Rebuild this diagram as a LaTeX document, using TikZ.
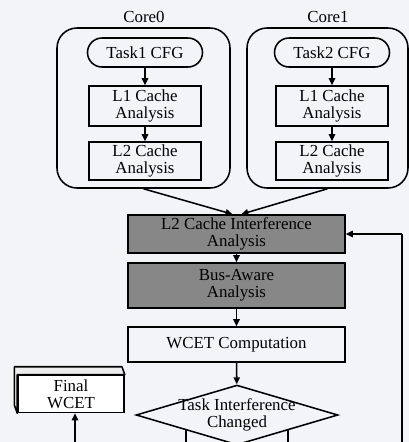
\documentclass[tikz,border=0pt]{standalone}
\usepackage{fontspec}
\setmainfont{Liberation Serif}
\usetikzlibrary{shapes.geometric, shapes.misc, arrows.meta, calc}

\definecolor{bggray}{RGB}{243,244,247}
\definecolor{stepgray}{RGB}{135,135,135}

\tikzset{
	base/.style={draw, line width=1.1pt, align=center, inner sep=0pt,
		font=\fontsize{12}{12}\selectfont},
	corebox/.style={base, rounded corners=0.5cm},
	cfgbox/.style={base, rounded rectangle},
	stepbox/.style={base, rectangle},
	graybox/.style={stepbox, fill=stepgray},
	decision/.style={base, diamond, aspect=3.37, inner sep=-2pt},
	arr/.style={line width=1.1pt, -{Triangle[length=5pt, width=4.5pt]}},
}

\begin{document}
\begin{tikzpicture}

\useasboundingbox[fill=bggray] (0,0) rectangle (10.225,-11.05);

%% Core 0
\node[font=\fontsize{12}{12}\selectfont] (c0lab) at (3.6,-0.425) {Core0};
\node[corebox, minimum width=4.325cm, minimum height=4cm] (core0) at (3.5875,-2.7) {};
\node[cfgbox, minimum width=2.875cm, minimum height=0.725cm] (task1) at (3.625,-1.3125) {Task1 CFG};
\node[stepbox, minimum width=2.8cm, minimum height=1cm] (l1a) at (3.625,-2.65) {L1 Cache\\Analysis};
\node[stepbox, minimum width=2.8cm, minimum height=0.95cm] (l2a) at (3.625,-4.025) {L2 Cache\\Analysis};
\draw[arr] (task1) -- (l1a);
\draw[arr] (l1a) -- (l2a);

%% Core 1
\node[font=\fontsize{12}{12}\selectfont] (c1lab) at (8.2,-0.425) {Core1};
\node[corebox, minimum width=4.025cm, minimum height=4cm] (core1) at (8.1875,-2.7) {};
\node[cfgbox, minimum width=2.875cm, minimum height=0.725cm] (task2) at (8.3,-1.3125) {Task2 CFG};
\node[stepbox, minimum width=2.8cm, minimum height=1cm] (l1b) at (8.3,-2.65) {L1 Cache\\Analysis};
\node[stepbox, minimum width=2.8cm, minimum height=0.95cm] (l2b) at (8.3,-4.025) {L2 Cache\\Analysis};
\draw[arr] (task2) -- (l1b);
\draw[arr] (l1b) -- (l2b);

%% shared analysis
\node[graybox, minimum width=5.425cm, minimum height=0.95cm] (l2int) at (5.9125,-5.85) {L2 Cache Interference\\Analysis};
\node[graybox, minimum width=5.425cm, minimum height=1.125cm] (bus) at (5.9125,-7.1375) {Bus-Aware\\Analysis};
\node[stepbox, minimum width=5.425cm, minimum height=0.875cm] (wcet) at (5.9125,-8.6125) {WCET Computation};
\node[decision] (chk) at (5.925,-10.375) {Task Interference\\Changed};

\draw[arr] (core0.south) -- ([xshift=-0.1cm]l2int.north);
\draw[arr] (core1.south) -- ([xshift=0.12cm]l2int.north);
\draw[arr] (l2int) -- (bus);
\draw[arr] (bus) -- (wcet);
\draw[arr] (wcet) -- (chk);

%% result box
\node[stepbox, fill=white, minimum width=2.65cm, minimum height=0.925cm] (final) at (1.775,-9.85) {Final\\WCET};
\draw[line width=1.1pt, fill=gray!15, line join=round]
	(final.south west) -- ++(-0.07,0.2) -- ($(final.north west)+(-0.07,0.2)$)
	-- ($(final.north east)+(-0.07,0.2)$) -- (final.north east) -- (final.north west) -- cycle;

%% loop back
\coordinate (lowL) at ($(chk.south west)+(0,-1)$);
\coordinate (lowR) at ($(chk.south east)+(0,-1)$);
\coordinate (back) at (10.05,-5.85);
\draw[arr] (chk.south west) -- (lowL) -| ([xshift=0.1cm]final.south);
\draw[line width=1.1pt] (chk.south east) -- (lowR) -| (back);
\draw[arr] (back) -- (l2int.east);

\end{tikzpicture}
\end{document}
